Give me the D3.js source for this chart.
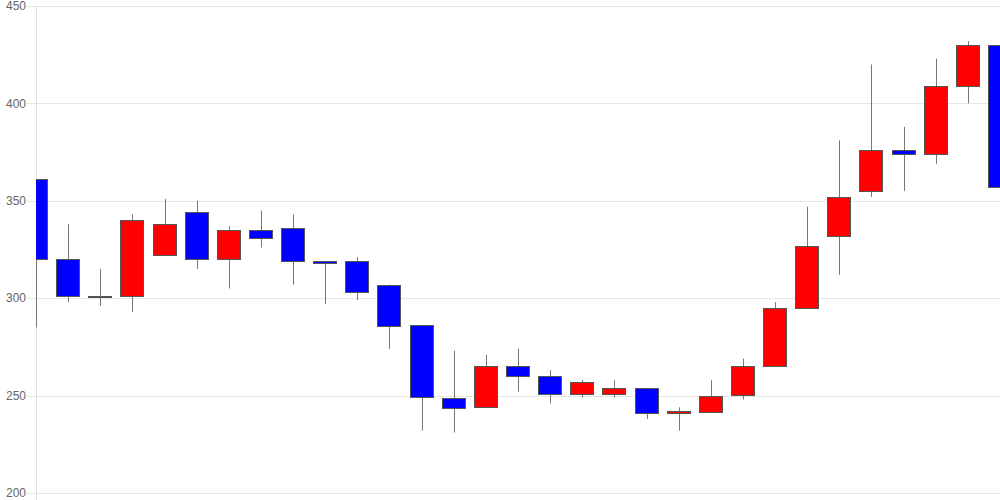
<!DOCTYPE html>
<html>
<head>
<meta charset="utf-8">
<script src="https://cdn.jsdelivr.net/npm/d3@7"></script>
<style>
  html, body { margin: 0; padding: 0; background: #fff; }
  svg { display: block; }
</style>
</head>
<body>
<svg id="chart" width="1000" height="500"></svg>
<script>
const opens  = [361, 320, 301, 301, 322, 344, 320, 335, 336, 319, 319, 307, 286, 249, 244, 265, 260, 251, 251, 254, 241, 242, 250, 265, 295, 332, 355, 376, 374, 409, 430];
const closes = [320, 301, 301, 340, 338, 320, 335, 331, 319, 318, 303, 286, 249, 244, 265, 260, 251, 257, 254, 241, 242, 250, 265, 295, 327, 352, 376, 374, 409, 430, 357];
const highs  = [361, 338, 315, 343, 351, 350, 337, 345, 343, 319, 321, 307, 286, 273, 271, 274, 263, 258, 258, 254, 244, 258, 269, 298, 347, 381, 420, 388, 423, 432, 430];
const lows   = [285, 298, 296, 293, 322, 315, 305, 326, 307, 297, 299, 274, 232, 231, 244, 252, 246, 249, 249, 238, 232, 242, 248, 265, 295, 312, 352, 355, 369, 400, 356];
const yTicks = [200, 250, 300, 350, 400, 450];

(function () {
const idx = d3.range(opens.length);
const svg = d3.select("#chart");
const pl = 36, pr = 1000, pt = 6, pb = 493;

const x = d3.scalePoint().domain(idx).range([pl, pr]);
const y = d3.scaleLinear().domain([200, 450]).range([pb, pt]);
const bodyW = 23;

svg.append("g").selectAll("line").data(yTicks).join("line")
  .attr("x1", pl - 9).attr("x2", pr)
  .attr("y1", d => Math.round(y(d)) + 0.5).attr("y2", d => Math.round(y(d)) + 0.5)
  .attr("stroke", "#e6e6e6").attr("stroke-width", 1);
svg.append("line")
  .attr("x1", pl + 0.5).attr("x2", pl + 0.5)
  .attr("y1", pt).attr("y2", 500)
  .attr("stroke", "#e0e0e0");
svg.append("g").selectAll("text").data(yTicks).join("text")
  .attr("x", pl - 10).attr("y", d => y(d))
  .attr("dy", "0.35em")
  .attr("text-anchor", "end")
  .attr("font-family", "Arial, 'Liberation Sans', sans-serif")
  .attr("font-size", 12)
  .attr("fill", "#666")
  .text(d => d);

svg.append("clipPath").attr("id", "plot")
  .append("rect").attr("x", pl).attr("y", 0).attr("width", pr - pl).attr("height", 500);

const c = svg.append("g").attr("clip-path", "url(#plot)");
const cx = i => Math.round(x(i));

c.selectAll("line.wick").data(idx).join("line")
  .attr("class", "wick")
  .attr("x1", i => cx(i) + 0.5).attr("x2", i => cx(i) + 0.5)
  .attr("y1", i => y(highs[i])).attr("y2", i => y(lows[i]))
  .attr("stroke", "#777").attr("stroke-width", 1);

c.selectAll("rect.body").data(idx).join("rect")
  .attr("class", "body")
  .attr("x", i => cx(i) - 11.5)
  .attr("width", bodyW)
  .attr("y", i => Math.round(y(Math.max(opens[i], closes[i]))) + 0.5)
  .attr("height", i => Math.max(1, Math.round(Math.abs(y(opens[i]) - y(closes[i])))))
  .attr("fill", i => closes[i] > opens[i] ? "#ff0000" : "#0000ff")
  .attr("stroke", "#555").attr("stroke-width", 1);
})();
</script>
</body>
</html>
